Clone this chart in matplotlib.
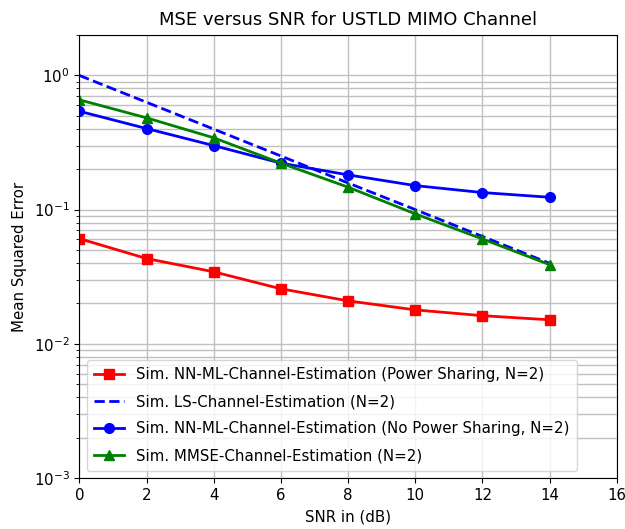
import matplotlib
matplotlib.use("Agg")
import matplotlib.pyplot as plt

snr = [0, 2, 4, 6, 8, 10, 12, 14]
mse_nn_ps = [0.0608, 0.0432, 0.0344, 0.0257, 0.0209, 0.0179, 0.0162, 0.0151]
mse_ls = [1.0, 0.631, 0.398, 0.251, 0.158, 0.100, 0.0631, 0.0398]
mse_nn_nops = [0.541, 0.402, 0.300, 0.222, 0.1815, 0.151, 0.134, 0.1236]
mse_mmse = [0.658, 0.483, 0.343, 0.222, 0.147, 0.093, 0.0604, 0.0389]

plt.rcParams['font.size'] = 10.8

fig = plt.figure(figsize=(6.25, 5.29), dpi=100)
ax = fig.add_axes([0.1269, 0.0964, 0.8600, 0.8374])

ax.semilogy(snr, mse_nn_ps, 'r-s', lw=2, ms=7, label='Sim. NN-ML-Channel-Estimation (Power Sharing, N=2)')
ax.semilogy(snr, mse_ls, 'b--', lw=2, label='Sim. LS-Channel-Estimation (N=2)')
ax.semilogy(snr, mse_nn_nops, 'b-o', lw=2, ms=7, label='Sim. NN-ML-Channel-Estimation (No Power Sharing, N=2)')
ax.semilogy(snr, mse_mmse, 'g-^', lw=2, ms=7, label='Sim. MMSE-Channel-Estimation (N=2)')

ax.set_xlim(0, 16)
ax.set_ylim(1e-3, 2)
ax.grid(True, which='both', color='#c0c0c0', lw=1)
ax.set_xlabel('SNR in (dB)', labelpad=5)
ax.set_ylabel('Mean Squared Error', labelpad=5)
ax.set_title('MSE versus SNR for USTLD MIMO Channel', fontsize=13, pad=7)
ax.legend(loc='lower left', labelspacing=0.8, borderpad=0.5)

fig.savefig('out.png', dpi=100)
